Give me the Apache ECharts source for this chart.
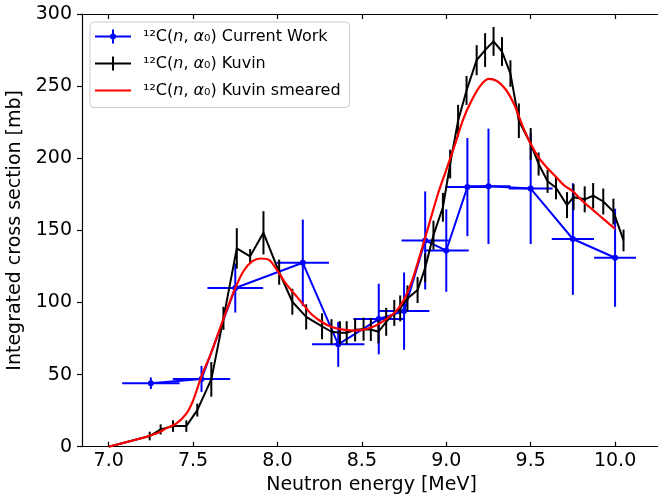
<!DOCTYPE html>
<html><head><meta charset="utf-8">
<script src="https://cdn.jsdelivr.net/npm/echarts@6/dist/echarts.min.js"></script>
<style>html,body{margin:0;padding:0;background:#fff}#c{width:658px;height:497px}</style>
</head><body><div id="c"></div>
<script>
const xTicks = [7.0, 7.5, 8.0, 8.5, 9.0, 9.5, 10.0];
const yTicks = [0, 50, 100, 150, 200, 250, 300];

// Current Work
const cwX    = [7.25, 7.55, 7.75, 8.15, 8.36, 8.60, 8.75, 8.875, 9.00, 9.125, 9.25, 9.50, 9.75, 10.00];
const cwY    = [44, 47, 110, 127.5, 71, 88.5, 94, 143, 136, 180, 180.5, 179, 144, 131];
const cwXErr = [0.17, 0.17, 0.165, 0.155, 0.155, 0.15, 0.15, 0.14, 0.133, 0.13, 0.13, 0.13, 0.125, 0.124];
const cwYErr = [4, 9, 17, 30, 15.6, 24.5, 26.8, 34, 28.6, 34, 40, 38.5, 38.7, 34];

// Kuvin
const kuX = [7.00, 7.243, 7.308, 7.381, 7.46, 7.525, 7.608, 7.68, 7.759, 7.838, 7.917, 8.01, 8.088, 8.17,
             8.264, 8.32, 8.37, 8.41, 8.46, 8.51, 8.553, 8.598, 8.644, 8.692, 8.727, 8.77, 8.83, 8.875,
             8.924, 8.98, 9.023, 9.07, 9.12, 9.18, 9.23, 9.28, 9.33, 9.38, 9.43, 9.50, 9.547, 9.60,
             9.65, 9.715, 9.754, 9.82, 9.87, 9.93, 9.99, 10.05];
const kuY = [0, 7.4, 12, 14.3, 14.3, 25.4, 46.7, 89, 137.5, 132, 148.3, 121, 100.5, 90,
             83.5, 79.7, 79, 79, 81, 81.5, 81.3, 79.7, 86.6, 92.8, 95.9, 102.8, 108.6, 124,
             146.7, 166, 196, 226, 247, 268, 275, 281, 274, 258.7, 226, 210, 196, 184,
             179.5, 167.5, 173, 171.5, 174, 170, 163, 143];
const kuErr = [0, 3, 3.5, 4, 4, 4.5, 12, 8, 14, 5, 15, 8.7, 9, 8.7,
               9, 8.7, 8, 8, 8, 8, 8, 8, 9.7, 9, 9, 9, 9, 10,
               10, 10, 10, 11, 10, 10.4, 11.7, 10, 10, 9.2, 12, 11, 8, 8,
               8, 9, 9, 9, 8.8, 9, 9, 7.5];

// Kuvin smeared
const smX = [7.00, 7.10, 7.20, 7.30, 7.34, 7.40, 7.46, 7.50, 7.55, 7.60, 7.65, 7.70, 7.75, 7.80, 7.85,
             7.90, 7.95, 8.00, 8.05, 8.10, 8.15, 8.20, 8.25, 8.30, 8.35, 8.40, 8.45, 8.50, 8.55,
             8.60, 8.65, 8.70, 8.75, 8.80, 8.85, 8.90, 8.95, 9.00, 9.05, 9.10, 9.15, 9.20, 9.25,
             9.30, 9.35, 9.40, 9.45, 9.50, 9.55, 9.60, 9.65, 9.70, 9.75, 9.80, 9.85, 9.90, 9.95, 10.00];
const smY = [0, 3, 6, 10, 12.7, 16, 23, 32, 49, 63, 79, 95, 110, 122, 128.5,
             130.5, 129.5, 122, 113, 106, 99, 92, 87.5, 84, 82, 81, 80.5, 81, 82.5,
             85, 89, 93.5, 102, 116, 135, 155, 175, 192, 209, 227, 240, 250, 255,
             253.5, 248, 238, 223, 210, 200, 193, 187, 181, 177, 171, 166, 161, 156, 151];

const FONT = 'DejaVu Sans';
const zip2 = (a, b) => a.map((v, i) => [v, b[i]]);

function errRender(color, withX) {
  return function (params, api) {
    const x = api.value(0), y = api.value(1), xe = api.value(2), ye = api.value(3);
    const children = [];
    const st = { stroke: color, lineWidth: 2 };
    if (withX && xe > 0) {
      const l = api.coord([x - xe, y]), r = api.coord([x + xe, y]);
      children.push({ type: 'line', shape: { x1: l[0], y1: l[1], x2: r[0], y2: r[1] }, style: st });
    }
    if (ye > 0) {
      const t = api.coord([x, y + ye]), b = api.coord([x, y - ye]);
      children.push({ type: 'line', shape: { x1: t[0], y1: t[1], x2: b[0], y2: b[1] }, style: st });
    }
    return { type: 'group', children };
  };
}

const labels = {
  cw: '{r|¹²C(}{i|n}{r|, }{i|α}{r|₀) Current Work}',
  ku: '{r|¹²C(}{i|n}{r|, }{i|α}{r|₀) Kuvin}',
  sm: '{r|¹²C(}{i|n}{r|, }{i|α}{r|₀) Kuvin smeared}'
};

const iconBlue = 'path://M0,6H36V8H0Z M17,0H19V14H17Z M21,7A3,3 0 1,1 15,7A3,3 0 1,1 21,7Z';
const iconBlack = 'path://M0,6H36V8H0Z M17,0H19V14H17Z';
const iconRed = 'path://M0,6H36V8H0Z';

const xMin = 6.842, xMax = 10.272;

const option = {
  animation: false,
  backgroundColor: '#fff',
  grid: { left: 82, right: -3, top: 14, bottom: 50.3, containLabel: false, outerBoundsMode: 'none' },
  xAxis: [{
    type: 'value', min: xMin, max: xMax, position: 'bottom',
    name: 'Neutron energy [MeV]', nameLocation: 'middle', nameGap: 27,
    nameTextStyle: { fontFamily: FONT, fontSize: 19, color: '#000' },
    axisLine: { show: true, onZero: false, lineStyle: { color: '#000', width: 1.2 } },
    axisTick: { show: true, inside: true, length: 5, customValues: xTicks, lineStyle: { color: '#000', width: 1.2 } },
    axisLabel: { customValues: xTicks, formatter: v => v.toFixed(1), margin: 5, fontFamily: FONT, fontSize: 19, color: '#000' },
    splitLine: { show: false }
  }, {
    type: 'value', min: xMin, max: xMax, position: 'top',
    axisLine: { show: true, onZero: false, lineStyle: { color: '#000', width: 1.2 } },
    axisTick: { show: true, inside: true, length: 5, customValues: xTicks, lineStyle: { color: '#000', width: 1.2 } },
    axisLabel: { show: false },
    splitLine: { show: false }
  }],
  yAxis: {
    type: 'value', min: 0, max: 300, interval: 50,
    name: 'Integrated cross section [mb]', nameLocation: 'middle', nameGap: 55,
    nameTextStyle: { fontFamily: FONT, fontSize: 19, color: '#000' },
    axisLine: { show: true, lineStyle: { color: '#000', width: 1.2 } },
    axisTick: { show: true, inside: false, length: 5, lineStyle: { color: '#000', width: 1.2 } },
    axisLabel: { margin: 10, fontFamily: FONT, fontSize: 19, color: '#000' },
    splitLine: { show: false }
  },
  legend: {
    orient: 'vertical', left: 90, top: 22,
    padding: [6.5, 9, 9, 5], itemGap: 11, itemWidth: 36, itemHeight: 14,
    backgroundColor: 'rgba(255,255,255,0.8)', borderColor: '#cccccc', borderWidth: 1, borderRadius: 4,
    data: [{ name: 'cw', icon: iconBlue }, { name: 'ku', icon: iconBlack }, { name: 'sm', icon: iconRed }],
    formatter: n => labels[n],
    textStyle: {
      padding: [0, 0, 0, 7],
      rich: {
        r: { fontFamily: FONT, fontSize: 16, color: '#000' },
        i: { fontFamily: FONT, fontSize: 16, fontStyle: 'italic', color: '#000' }
      }
    }
  },
  series: [
    {
      name: 'cwErr', type: 'custom', xAxisIndex: 0, z: 2,
      renderItem: errRender('#0000ff', true),
      encode: { x: 0, y: 1 },
      data: cwX.map((v, i) => [v, cwY[i], cwXErr[i], cwYErr[i]])
    },
    {
      name: 'cw', type: 'line', xAxisIndex: 0, z: 2, color: '#0000ff',
      data: zip2(cwX, cwY), symbol: 'circle', symbolSize: 6, showSymbol: true,
      lineStyle: { color: '#0000ff', width: 2 }, itemStyle: { color: '#0000ff' }
    },
    {
      name: 'kuErr', type: 'custom', xAxisIndex: 0, z: 3,
      renderItem: errRender('#000000', false),
      encode: { x: 0, y: 1 },
      data: kuX.map((v, i) => [v, kuY[i], 0, kuErr[i]])
    },
    {
      name: 'ku', type: 'line', xAxisIndex: 0, z: 3, color: '#000000',
      data: zip2(kuX, kuY), symbol: 'none',
      lineStyle: { color: '#000000', width: 2 }, itemStyle: { color: '#000000' }
    },
    {
      name: 'sm', type: 'line', xAxisIndex: 0, z: 4, color: '#ff0000',
      data: zip2(smX, smY), symbol: 'none', smooth: 0.3,
      lineStyle: { color: '#ff0000', width: 2.2 }, itemStyle: { color: '#ff0000' }
    }
  ]
};

const chart = echarts.init(document.getElementById('c'), null, { renderer: 'canvas' });
chart.setOption(option);
</script>
</body></html>
